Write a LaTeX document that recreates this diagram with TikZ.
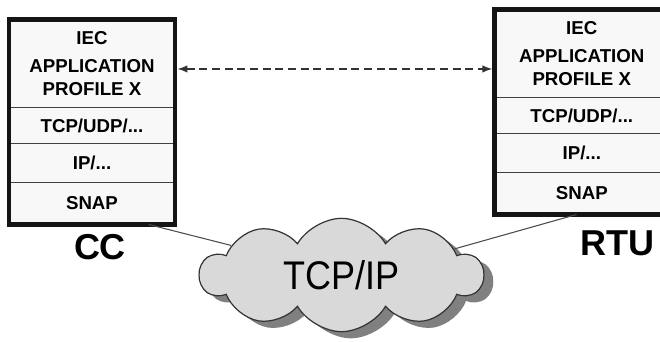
\documentclass[tikz,border=0pt]{standalone}
\usepackage{fontspec}
\setmainfont{Liberation Sans}
\newfontfamily\netfont[FakeStretch=0.9]{Liberation Sans}
\usetikzlibrary{arrows.meta,positioning,calc,shapes.symbols,shadows}
\definecolor{frameGray}{HTML}{151515}
\definecolor{rowFill}{HTML}{F8F8F8}
\definecolor{cloudFill}{HTML}{D9D9D9}
\definecolor{cloudShade}{HTML}{808080}

\begin{document}
\begin{tikzpicture}[
    x=0.75pt, y=-0.75pt,
    >=Latex,
    every node/.style={font=\fontsize{14}{16.8}\selectfont\bfseries},
    layer/.style ={rectangle,draw=black!75,fill=rowFill,line width=1.1pt,
                   minimum width=125pt,inner sep=0pt,outer sep=0pt,align=center},
    wide/.style  ={minimum width=131pt},
    frame/.style ={draw=frameGray,line width=3.2pt},
    site/.style  ={font=\fontsize{27}{30}\selectfont\bfseries},
    link/.style  ={<->,dash pattern=on 6pt off 3.5pt,line width=1pt,black!80,
                   shorten <=1.6pt,shorten >=1.6pt},
    wire/.style  ={line width=0.8pt,black!70}
  ]
  \useasboundingbox (0,0) rectangle (660,342);
  % control centre stack
  \node[layer,minimum height=66pt] (ccApp) at (92,63.5)
        {IEC\\[4.5pt]APPLICATION\\PROFILE X};
  \node[layer,minimum height=27pt,below=0pt of ccApp]   (ccTcp)  {TCP/UDP/...};
  \node[layer,minimum height=29.25pt,below=0pt of ccTcp] (ccIp)   {IP/...};
  \node[layer,minimum height=31.5pt,below=0pt of ccIp]   (ccSnap) {SNAP};
  \draw[frame] (ccApp.north west) rectangle (ccSnap.south east);
  \node[site] (cc) at (100,247) {CC};
  % remote terminal unit stack (runs off the right edge)
  \node[layer,wide,minimum height=66pt] (rtuApp) at (581.8,53.5)
        {IEC\\[4.5pt]APPLICATION\\PROFILE X};
  \node[layer,wide,minimum height=27pt,below=0pt of rtuApp]    (rtuTcp)  {TCP/UDP/...};
  \node[layer,wide,minimum height=29.25pt,below=0pt of rtuTcp] (rtuIp)   {IP/...};
  \node[layer,wide,minimum height=31.5pt,below=0pt of rtuIp]   (rtuSnap) {SNAP};
  \draw[frame] (rtuApp.north west) rectangle (rtuSnap.south east);
  \node[site] (rtu) at (617,243) {RTU};
  % network
  \node[cloud,cloud puffs=10,cloud puff arc=120,aspect=2.5,
        draw=black!80,line width=0.9pt,fill=cloudFill,
        minimum width=212pt,minimum height=85pt,
        drop shadow={shadow xshift=7pt,shadow yshift=-5pt,fill=cloudShade,opacity=1},
        font=\netfont\fontsize{30}{34}\selectfont\mdseries] (net) at (341.5,275) {TCP/IP};
  \draw[wire] ($(ccSnap.south west)!0.84!(ccSnap.south east)$) -- (net.165);
  \draw[wire] ($(rtuSnap.south west)!0.47!(rtuSnap.south east)$) -- (net.13);
  \draw[link] ([yshift=-4.1pt]ccApp.east) -- ([yshift=-4.1pt]ccApp.east -| rtuApp.west);
\end{tikzpicture}
\end{document}
